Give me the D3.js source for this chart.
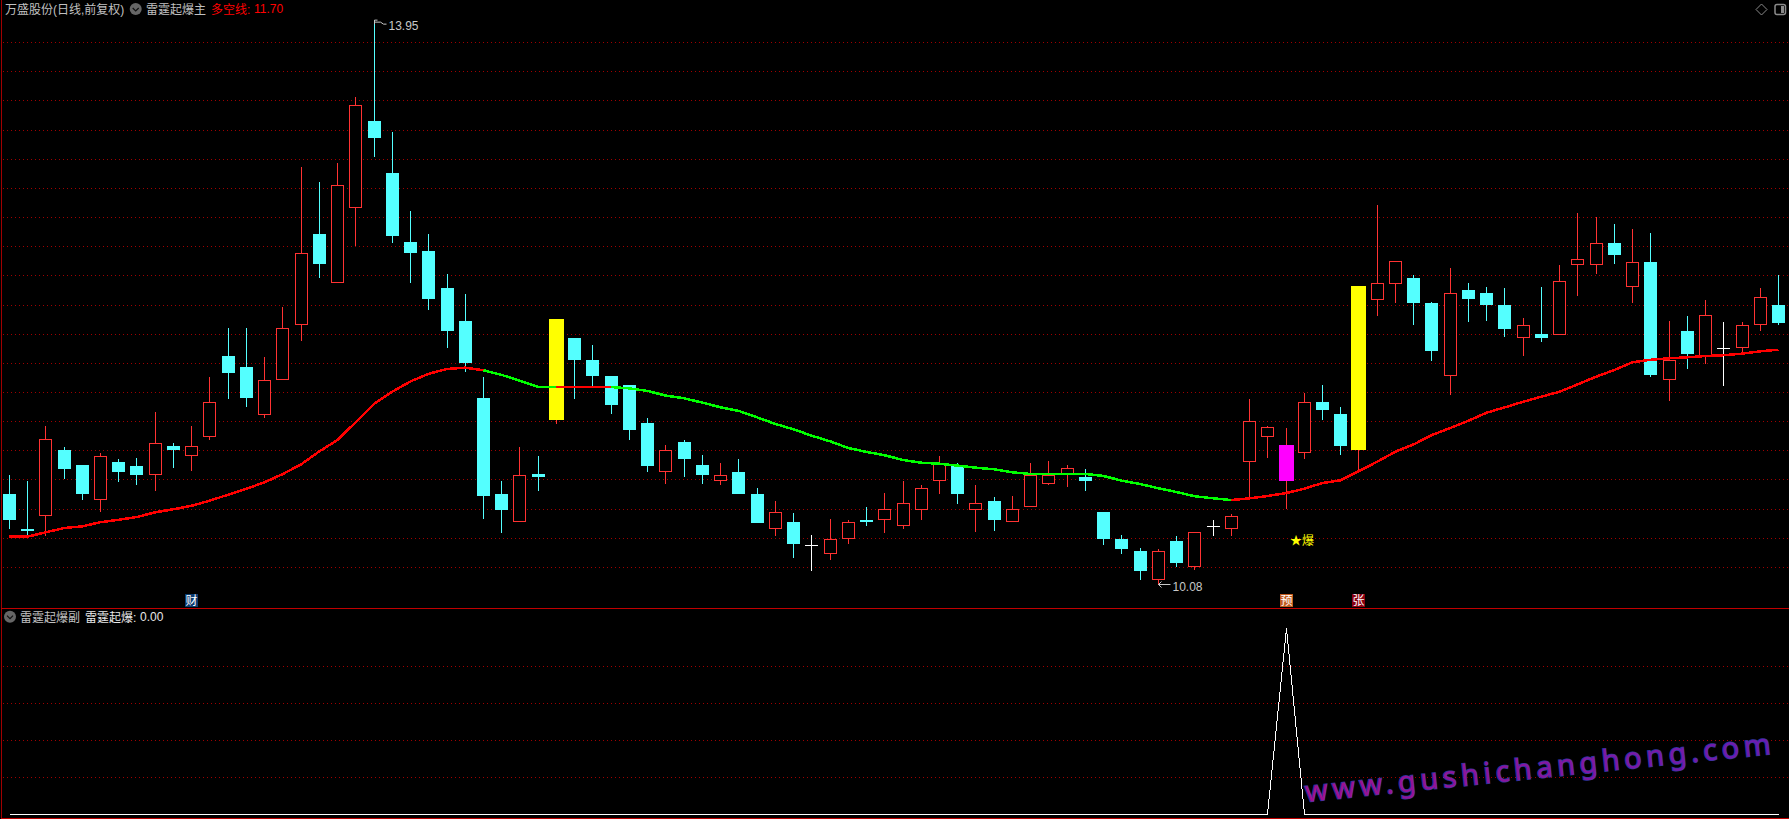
<!DOCTYPE html>
<html><head><meta charset="utf-8">
<style>html,body{margin:0;padding:0;background:#000;overflow:hidden}svg{display:block}text{font-family:"Liberation Sans","Noto Sans CJK SC",sans-serif}</style>
<script src="https://cdn.jsdelivr.net/npm/d3@7/dist/d3.min.js"></script>
</head><body><svg id="c" width="1789" height="819"></svg>
<script>
const opens=[10.70,10.46,10.55,11.00,10.90,10.66,10.92,10.89,10.83,11.03,10.96,11.09,11.65,11.57,11.24,11.48,11.86,12.48,12.15,12.66,13.26,12.90,12.43,12.37,12.11,11.89,11.36,10.70,10.51,10.84,11.21,11.77,11.62,11.51,11.45,11.19,10.85,11.06,10.90,10.79,10.85,10.70,10.46,10.51,10.35,10.29,10.39,10.52,10.52,10.48,10.59,10.79,10.89,10.59,10.65,10.51,10.61,10.77,10.84,10.82,10.58,10.39,10.31,10.11,10.38,10.20,10.48,10.46,10.92,11.09,10.79,10.98,11.33,11.25,11.00,12.03,12.14,12.18,12.01,11.51,12.10,12.08,12.00,11.77,11.80,11.79,12.27,12.27,12.42,12.12,12.29,11.48,11.82,11.64,11.70,11.70,11.86,12.00];
const closes=[10.52,10.45,11.08,10.87,10.70,10.96,10.85,10.83,11.05,11.00,11.03,11.33,11.53,11.36,11.48,11.84,12.35,12.28,12.82,13.37,13.14,12.47,12.35,12.04,11.82,11.60,10.69,10.59,10.83,10.82,11.90,11.62,11.51,11.31,11.14,10.89,11.00,10.94,10.83,10.83,10.70,10.50,10.58,10.36,10.35,10.39,10.51,10.51,10.60,10.64,10.74,10.91,10.70,10.64,10.52,10.60,10.83,10.83,10.88,10.79,10.39,10.32,10.17,10.31,10.23,10.44,10.48,10.55,11.20,11.16,11.04,11.33,11.28,11.03,12.13,12.15,12.30,12.01,11.68,12.08,12.04,12.00,11.83,11.86,11.77,12.16,12.31,12.42,12.34,12.29,11.52,11.62,11.66,11.93,11.70,11.86,12.05,11.87];
const highs=[10.83,10.79,11.17,11.02,10.90,10.98,10.94,10.95,11.26,11.05,11.17,11.50,11.84,11.84,11.64,11.98,12.94,12.84,12.97,13.42,13.95,13.18,12.64,12.48,12.21,12.07,11.50,10.79,11.02,10.96,11.90,11.77,11.72,11.51,11.45,11.22,11.04,11.07,10.97,10.91,10.94,10.74,10.65,10.57,10.42,10.53,10.52,10.61,10.71,10.79,10.76,10.96,10.91,10.76,10.68,10.69,10.91,10.93,10.90,10.87,10.58,10.42,10.33,10.32,10.41,10.44,10.52,10.56,11.35,11.17,11.15,11.39,11.45,11.30,12.13,12.68,12.30,12.20,12.02,12.25,12.15,12.12,12.11,11.91,12.12,12.27,12.63,12.60,12.55,12.52,12.49,11.89,11.92,12.03,11.88,11.88,12.11,12.20];
const lows=[10.46,10.42,10.41,10.80,10.66,10.58,10.78,10.76,10.72,10.88,10.86,11.07,11.35,11.30,11.22,11.48,11.75,12.18,12.15,12.40,13.01,12.42,12.15,11.96,11.70,11.54,10.53,10.43,10.51,10.72,11.18,11.35,11.44,11.25,11.07,10.85,10.77,10.82,10.77,10.76,10.70,10.50,10.41,10.26,10.17,10.25,10.36,10.48,10.43,10.46,10.52,10.70,10.63,10.44,10.45,10.51,10.61,10.76,10.75,10.72,10.35,10.29,10.11,10.08,10.20,10.18,10.41,10.41,10.67,10.95,10.60,10.94,11.21,10.97,10.86,11.92,12.01,11.86,11.61,11.38,11.88,11.89,11.78,11.65,11.74,11.79,12.06,12.21,12.28,12.01,11.50,11.34,11.56,11.59,11.44,11.67,11.82,11.86];
const trendLine=[10.408,10.408,10.438,10.467,10.479,10.507,10.524,10.543,10.575,10.596,10.62,10.655,10.696,10.737,10.781,10.838,10.904,10.993,11.071,11.194,11.318,11.402,11.473,11.525,11.558,11.567,11.549,11.517,11.477,11.436,11.436,11.436,11.436,11.434,11.425,11.407,11.375,11.357,11.327,11.295,11.27,11.226,11.181,11.144,11.10,11.062,11.016,10.989,10.966,10.934,10.915,10.908,10.895,10.881,10.87,10.849,10.838,10.838,10.838,10.838,10.824,10.792,10.769,10.74,10.714,10.685,10.671,10.659,10.671,10.687,10.707,10.737,10.776,10.795,10.858,10.922,10.991,11.041,11.105,11.153,11.203,11.258,11.295,11.333,11.368,11.402,11.453,11.505,11.551,11.604,11.621,11.631,11.638,11.647,11.652,11.663,11.679,11.69];
const trendBreaks=[0,26,30,33,67,97];
const trendColours=["#ff0000","#00ff00","#ff0000","#00ff00","#ff0000"];
const signal=[0,0,0,0,0,0,0,0,0,0,0,0,0,0,0,0,0,0,0,0,0,0,0,0,0,0,0,0,0,0,0,0,0,0,0,0,0,0,0,0,0,0,0,0,0,0,0,0,0,0,0,0,0,0,0,0,0,0,0,0,0,0,0,0,0,0,0,0,0,0,100,0,0,0,0,0,0,0,0,0,0,0,0,0,0,0,0,0,0,0,0,0,0,0,0,0,0,0];
const highlightIdx=[30,70,74];
const highlightCol=["#ffff00","#ff00ff","#ffff00"];
const priceTicks=[10.2,10.4,10.6,10.8,11.0,11.2,11.4,11.6,11.8,12.0,12.2,12.4,12.6,12.8,13.0,13.2,13.4,13.6,13.8];
const signalTicks=[20,40,60,80];
const tagIdx=[9,70,74];
const tagText=["财","预","张"];
const tagCol=["#0a3a6e","#c05a1e","#8a0010"];

const svg=d3.select("#c");
const N=opens.length;
svg.append("rect").attr("width",1789).attr("height",819).attr("fill","#000");
const xs=d3.scaleLinear().domain([0,N-1]).range([9.3,1778.5]);
const px=i=>Math.floor(xs(i));
const y=d3.scaleLinear().domain([10.2,13.8]).range([567,42]);
const ySub=d3.scaleLinear().domain([0,100]).range([814.3,628.3]);
const crisp=svg.append("g").attr("shape-rendering","crispEdges");

const gridDraw=(ticks,sc)=>crisp.append("g").selectAll("line").data(ticks).join("line")
  .attr("x1",3).attr("x2",1789).attr("y1",d=>Math.round(sc(d))+.5).attr("y2",d=>Math.round(sc(d))+.5)
  .attr("stroke","#a00000").attr("stroke-dasharray","1 3");
gridDraw(priceTicks,y);gridDraw(signalTicks,ySub);

crisp.append("line").attr("x1",1.5).attr("x2",1.5).attr("y1",0).attr("y2",819).attr("stroke","#a00000");
crisp.append("line").attr("x1",1).attr("x2",1789).attr("y1",608.5).attr("y2",608.5).attr("stroke","#c00000");
crisp.append("line").attr("x1",1).attr("x2",1789).attr("y1",818.5).attr("y2",818.5).attr("stroke","#c00000");

const RED="#ff3232",CYAN="#54ffff",WHITE="#ffffff";
const colr=i=>closes[i]>opens[i]?RED:closes[i]<opens[i]?CYAN:WHITE;
const idx=d3.range(N);
const g=crisp.append("g");
g.selectAll("line.w").data(idx).join("line").attr("class","w")
  .attr("x1",i=>px(i)+.5).attr("x2",i=>px(i)+.5)
  .attr("y1",i=>Math.round(y(highs[i]))).attr("y2",i=>Math.round(y(lows[i])))
  .attr("stroke",colr);
idx.forEach(i=>{
  const t=Math.round(y(Math.max(opens[i],closes[i]))),b=Math.round(y(Math.min(opens[i],closes[i])));
  const c=colr(i);
  if(c===RED){
    g.append("rect").attr("x",px(i)-5.5).attr("y",t+.5).attr("width",12).attr("height",Math.max(b-t-1,1)).attr("fill","#000").attr("stroke",c);
  }else if(c===CYAN){
    g.append("rect").attr("x",px(i)-6).attr("y",t).attr("width",13).attr("height",Math.max(b-t,1)).attr("fill",c);
  }else{
    g.append("line").attr("x1",px(i)-6).attr("x2",px(i)+7).attr("y1",t+.5).attr("y2",t+.5).attr("stroke",c);
  }
});
crisp.append("g").selectAll("rect").data(highlightIdx).join("rect")
  .attr("x",i=>px(i)-7).attr("width",15)
  .attr("y",i=>Math.round(y(closes[i]))).attr("height",i=>Math.round(y(opens[i]))-Math.round(y(closes[i])))
  .attr("fill",(d,k)=>highlightCol[k]);

const ln=d3.line().x(i=>xs(i)).y(i=>y(trendLine[i]));
trendColours.forEach((c,k)=>{
  crisp.append("path").attr("d",ln(d3.range(trendBreaks[k],trendBreaks[k+1]+1)))
    .attr("fill","none").attr("stroke",c).attr("stroke-width",2.5);
});

const ln2=d3.line().x((d,i)=>px(i)+.5).y(d=>ySub(d));
crisp.append("path").attr("d",ln2(signal)).attr("fill","none").attr("stroke","#fff").attr("stroke-width",1);

const tags=svg.append("g");
tagIdx.forEach((i,k)=>{
  const xx=px(i);
  tags.append("rect").attr("x",k===0?185:xx-6).attr("y",594).attr("width",13).attr("height",13).attr("fill",tagCol[k]);
  tags.append("text").attr("x",(k===0?185:xx-6)+.5).attr("y",605).attr("font-size",12).attr("fill","#fff").text(tagText[k]);
});
tags.append("text").attr("x",1290).attr("y",545).attr("font-size",12).attr("fill","#ffff00").text("★爆");

const lab=svg.append("g");
const hiI=d3.maxIndex(highs),loI=d3.minIndex(lows);
const hx=px(hiI)+.5,hy=y(highs[hiI]),lx=px(loI)+.5,ly=y(lows[loI]);
lab.append("path").attr("d",`M${hx} ${hy+4}L${hx} ${hy}L${hx+3} ${hy}M${hx} ${hy+2}L${hx+6} ${hy+2}L${hx+9} ${hy+4}L${hx+12} ${hy+4}`).attr("fill","none").attr("stroke","#c8c8c8");
lab.append("text").attr("x",hx+14).attr("y",hy+10).attr("font-size",12).attr("fill","#c8c8c8").text(d3.format(".2f")(highs[hiI]));
lab.append("path").attr("d",`M${lx+12} ${ly}L${lx} ${ly}L${lx+3} ${ly-3}M${lx} ${ly}L${lx+3} ${ly+3}`).attr("fill","none").attr("stroke","#c8c8c8");
lab.append("text").attr("x",lx+14).attr("y",ly+6).attr("font-size",12).attr("fill","#c8c8c8").text(d3.format(".2f")(lows[loI]));

const head=svg.append("g").attr("font-size",12);
const tx=(x,yy,c,t)=>head.append("text").attr("x",x).attr("y",yy).attr("fill",c).text(t);
const icon=(cx,cy)=>{
  head.append("circle").attr("cx",cx).attr("cy",cy).attr("r",6).attr("fill","#666");
  head.append("path").attr("d",`M${cx-3} ${cy-1}L${cx} ${cy+2}L${cx+3} ${cy-1}`).attr("fill","none").attr("stroke","#111").attr("stroke-width",1.2);
};
tx(5,14,"#c0c0c0","万盛股份(日线,前复权)");
icon(135.7,9);
tx(146,14,"#c0c0c0","雷霆起爆主");
tx(211,14,"#ff0000","多空线:");
tx(254,13,"#ff0000","11.70");
icon(10,616.7);
tx(20,622,"#c0c0c0","雷霆起爆副");
tx(85,622,"#e8e8e8","雷霆起爆:");
tx(140,621,"#e8e8e8","0.00");

const ic=crisp.append("g").attr("fill","none").attr("stroke","#8a8a8a");
ic.append("path").attr("d","M1761.5 4L1767 9.5L1761.5 15L1756 9.5Z").attr("shape-rendering","auto");
ic.append("rect").attr("x",1775).attr("y",4.5).attr("width",10.5).attr("height",10).attr("rx",2).attr("stroke-width",1.5).attr("shape-rendering","auto");
crisp.append("rect").attr("x",1781).attr("y",6).attr("width",3).attr("height",7).attr("fill","#8a8a8a");

const defs=svg.append("defs");
const grad=defs.append("linearGradient").attr("id","wm");
grad.append("stop").attr("offset","0").attr("stop-color","#a01090");
grad.append("stop").attr("offset","1").attr("stop-color","#6a1cb0");
svg.append("text").attr("transform","translate(1306,802) rotate(-5.9)")
  .style("font-family","'Noto Sans'").attr("font-size",29)
  .attr("textLength",468).attr("lengthAdjust","spacing")
  .attr("fill","url(#wm)").attr("stroke","#34349c").attr("stroke-width",1.6).attr("paint-order","stroke")
  .text("www.gushichanghong.com");
</script></body></html>
